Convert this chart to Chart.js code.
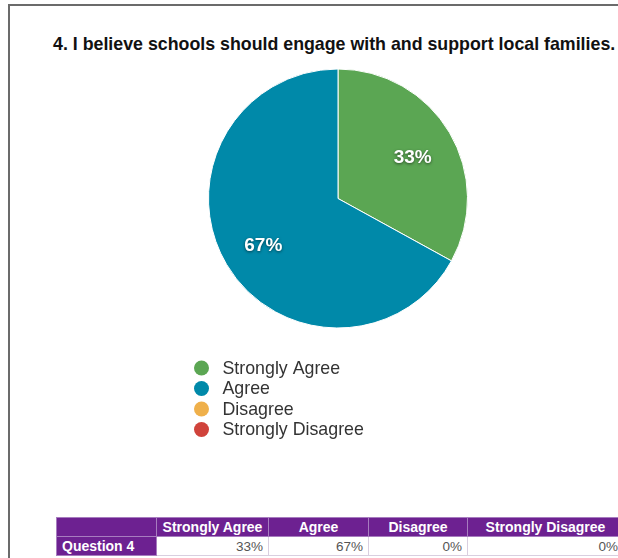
<!DOCTYPE html>
<html>
<head>
<meta charset="utf-8">
<script src="https://cdn.jsdelivr.net/npm/chart.js@4"></script>
<style>
    html, body { margin: 0; padding: 0; background: #fff; }
    body { width: 618px; height: 558px; overflow: hidden; position: relative; font-family: "Liberation Sans", Arial, Helvetica, sans-serif; }
    .frame { position: absolute; left: 8px; top: 4px; width: 640px; height: 600px; border-top: 2px solid #6b6b6b; border-left: 2px solid #6b6b6b; }
    .title { position: absolute; left: 53px; top: 34px; white-space: nowrap; font-weight: bold; font-size: 17.8px; color: #111; }
    #pie { position: absolute; left: 0; top: 0; }
    table { position: absolute; left: 56px; top: 517px; width: 567px; border-collapse: collapse; font-size: 13.5px; table-layout: fixed; }
    th, td { height: 18px; padding: 0 5px; border: 1px solid #d9cfe0; white-space: nowrap; overflow: hidden; }
    th { background: #6d2191; color: #fff; font-weight: bold; font-size: 14px; text-align: center; border-color: #a77cbf; }
    td { color: #555; text-align: right; }
    td.head { background: #6d2191; color: #fff; font-weight: bold; font-size: 14px; text-align: left; border-color: #a77cbf; }
</style>
</head>
<body>
<div class="frame"></div>
<div class="title">4. I believe schools should engage with and support local families.</div>
<canvas id="pie" width="618" height="460"></canvas>
<table id="summary"></table>
<script>
document.addEventListener('DOMContentLoaded', () => {
    const categories = ['Strongly Agree', 'Agree', 'Disagree', 'Strongly Disagree'];
    const percents = [33, 67, 0, 0];
    const colors = ['#5ba653', '#0089a9', '#efb04b', '#d0433b'];
    const rowLabel = 'Question 4';
    const colWidths = [100, 112, 100, 99, 156];

    // percentage labels sitting inside each slice
    const sliceLabels = {
        id: 'sliceLabels',
        afterDatasetsDraw(chart) {
            const ctx = chart.ctx;
            const meta = chart.getDatasetMeta(0);
            ctx.save();
            ctx.font = 'bold 19px "Liberation Sans", Arial, sans-serif';
            ctx.fillStyle = '#fff';
            ctx.textAlign = 'center';
            ctx.textBaseline = 'middle';
            ctx.shadowColor = 'rgba(0,0,0,0.55)';
            ctx.shadowBlur = 3;
            ctx.shadowOffsetY = 1;
            meta.data.forEach((arc, i) => {
                if (!percents[i]) return;
                const { x, y, startAngle, endAngle, outerRadius } = arc.getProps(['x', 'y', 'startAngle', 'endAngle', 'outerRadius'], true);
                const mid = (startAngle + endAngle) / 2;
                const r = outerRadius * 0.67;
                ctx.fillText(percents[i] + '%', x + Math.cos(mid) * r, y + Math.sin(mid) * r + 3);
            });
            ctx.restore();
        }
    };

    // stacked legend under the pie
    const stackedLegend = {
        id: 'stackedLegend',
        afterDraw(chart) {
            const ctx = chart.ctx;
            const left = 201.5, top = 368, step = 20.5;
            ctx.save();
            ctx.font = '17.8px "Liberation Sans", Arial, sans-serif';
            ctx.textBaseline = 'middle';
            chart.data.labels.forEach((label, i) => {
                const y = top + i * step;
                ctx.beginPath();
                ctx.arc(left, y, 7.5, 0, Math.PI * 2);
                ctx.fillStyle = chart.data.datasets[0].backgroundColor[i];
                ctx.fill();
                ctx.fillStyle = '#333';
                ctx.fillText(label, left + 21, y + 1);
            });
            ctx.restore();
        }
    };

    new Chart(document.getElementById('pie').getContext('2d'), {
        type: 'pie',
        data: {
            labels: categories,
            datasets: [{
                data: percents,
                backgroundColor: colors,
                borderColor: '#ffffff',
                borderWidth: 1
            }]
        },
        options: {
            responsive: false,
            animation: false,
            layout: { padding: { left: 208, right: 150, top: 68.5, bottom: 131.5 } },
            plugins: {
                legend: { display: false },
                tooltip: { enabled: false }
            }
        },
        plugins: [sliceLabels, stackedLegend]
    });

    // summary table below the chart
    const table = document.getElementById('summary');
    const colgroup = document.createElement('colgroup');
    colWidths.forEach(w => {
        const col = document.createElement('col');
        col.style.width = w + 'px';
        colgroup.appendChild(col);
    });
    table.appendChild(colgroup);
    const header = document.createElement('tr');
    header.innerHTML = '<th></th>' + categories.map(c => `<th>${c}</th>`).join('');
    const row = document.createElement('tr');
    row.innerHTML = `<td class="head">${rowLabel}</td>` + percents.map(p => `<td>${p}%</td>`).join('');
    table.appendChild(header);
    table.appendChild(row);
});
</script>
</body>
</html>
